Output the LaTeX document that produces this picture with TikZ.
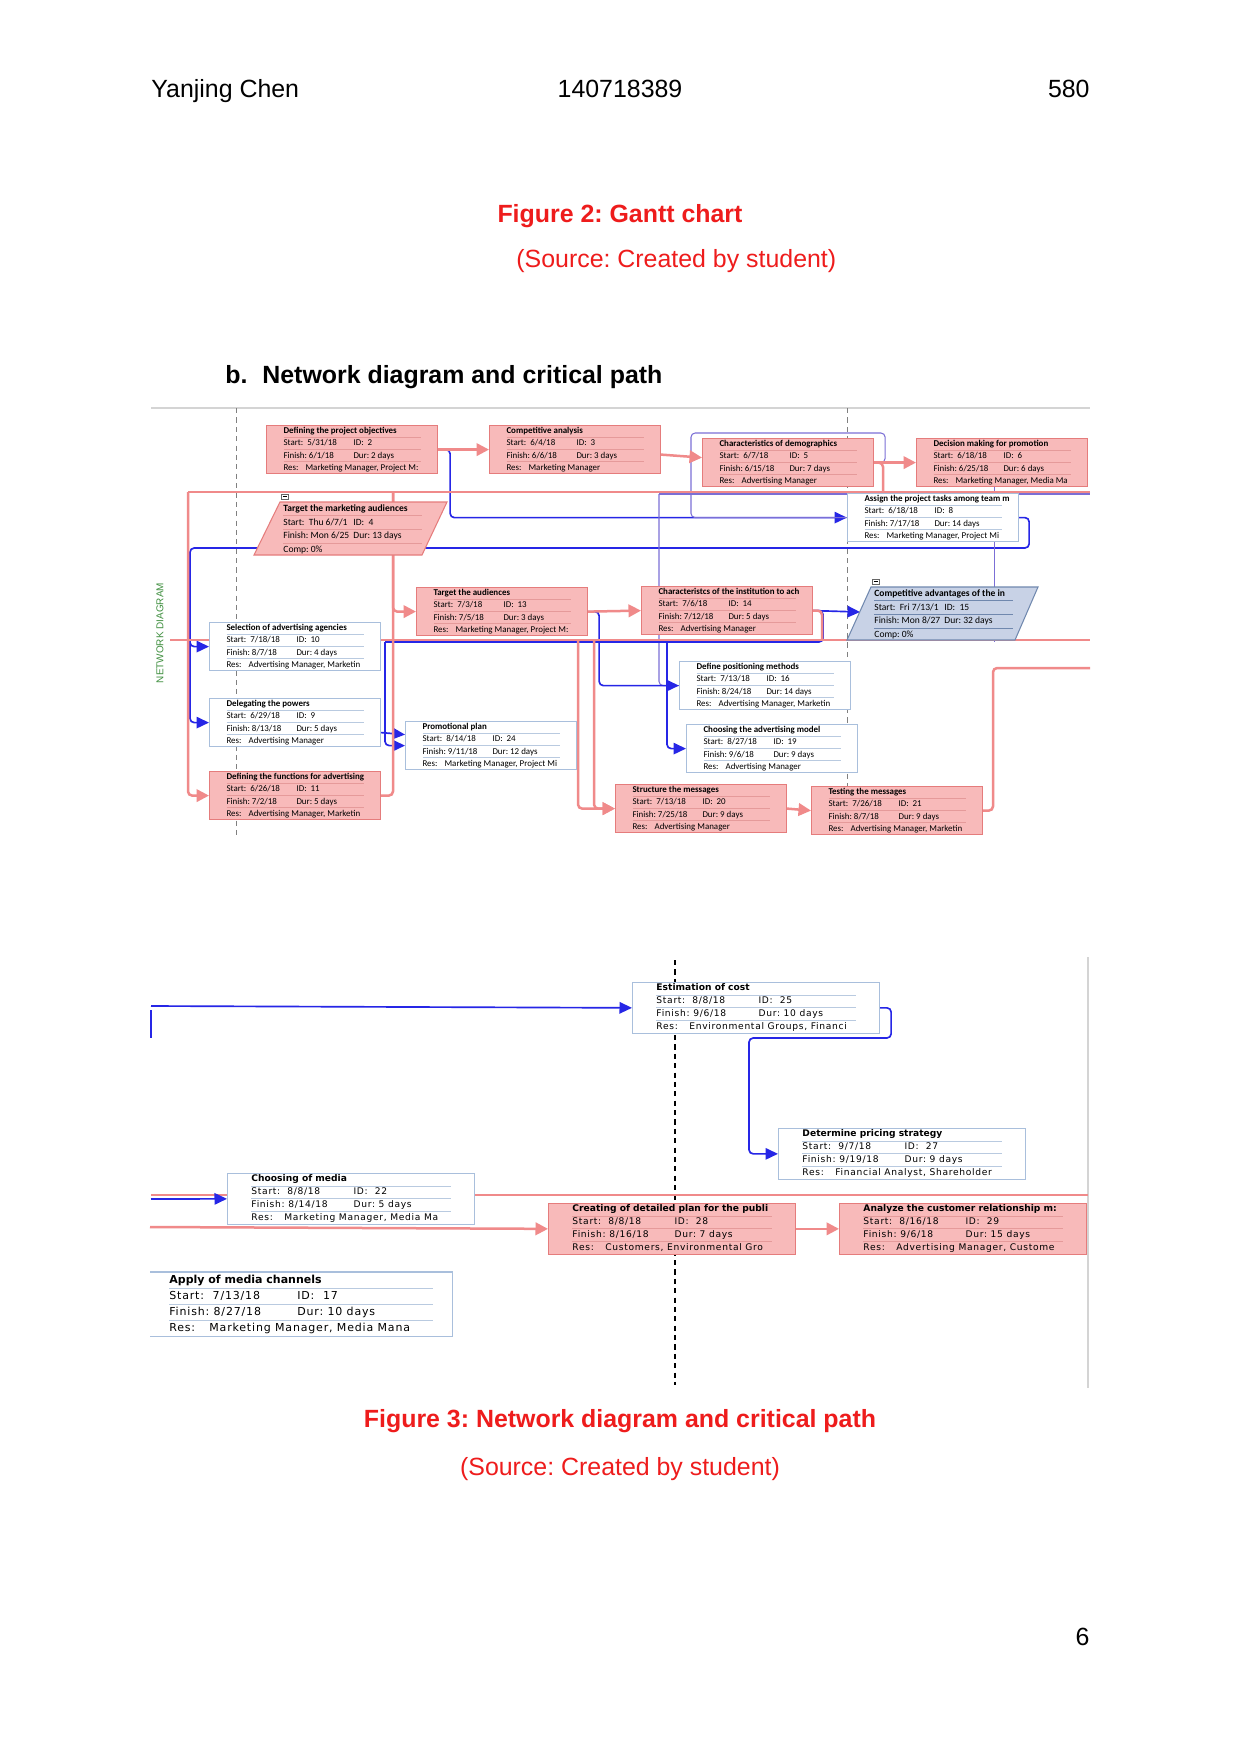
\documentclass[tikz,border=0pt]{standalone}
\usepackage{fontspec}
\setmainfont{Liberation Sans}
\newfontfamily\calfont{Carlito}
\newfontfamily\verfont[LetterSpace=7.5, BoldFeatures={LetterSpace=0}]{DejaVu Sans}
\usepackage{colortbl}
\usetikzlibrary{calc, arrows.meta, backgrounds}
\frenchspacing

\begin{document}
\begin{tikzpicture}[x=0.48bp, y=-0.48bp]
    % Define page size (A4 at 150 dpi, y pointing down)
    \useasboundingbox (0,0) rectangle (1241,1754);

    \definecolor{critLine}{HTML}{F08A8A}
    \definecolor{critFill}{HTML}{F8BABA}
    \definecolor{critBorder}{HTML}{E57C7C}
    \definecolor{critRule}{HTML}{E59A9A}
    \definecolor{linkBlue}{HTML}{2626E6}
    \definecolor{faintBlue}{HTML}{7B6FD6}
    \definecolor{normBorder}{HTML}{A9BFDC}
    \definecolor{normRule}{HTML}{B9CAE0}
    \definecolor{sumFill}{HTML}{C8D2E6}
    \definecolor{sumBorder}{HTML}{7088AE}
    \definecolor{capRed}{HTML}{EE1C1C}
    \definecolor{diagGreen}{HTML}{3F8F3F}
    \definecolor{frameGrey}{HTML}{D4D4D4}

    % Task box contents
    \def\taskrows#1#2#3#4#5#6{%
        \begin{tabular}{@{}l@{}l@{}}
            \multicolumn{2}{@{}l@{}}{\makebox[0pt][l]{\bfseries #1}}\\\hline
            \makebox[\colA][l]{Start:~~#2} & \makebox[\colB][l]{ID:~~#3}\\\hline
            \makebox[\colA][l]{Finish:~#4} & \makebox[\colB][l]{Dur:~#5}\\\hline
            \multicolumn{2}{@{}l@{}}{\makebox[0pt][l]{\makebox[\resW][l]{Res:}#6}}
        \end{tabular}}
    \def\pararows#1#2#3#4#5{%
        \begin{tabular}{@{}l@{}l@{}}
            \multicolumn{2}{@{}l@{}}{\makebox[0pt][l]{\bfseries #1}}\\\hline
            \makebox[\colA][l]{Start:~~#2} & \makebox[\colB][l]{ID:~~#3}\\\hline
            \makebox[\colA][l]{Finish:~#4} & \makebox[\colB][l]{Dur:~#5}\\\hline
            \multicolumn{2}{@{}l@{}}{Comp:~0\%}
        \end{tabular}}

    \tikzset{
        pagetext/.style={inner sep=0pt, font=\fontsize{12}{14}\selectfont},
        captext/.style={pagetext, text=capRed},
        topbox/.style={anchor=north west, inner xsep=8.16bp, inner ysep=0pt,
            minimum width=82.1bp, minimum height=22.6bp, line width=0.5bp,
            font=\calfont\fontsize{4.3}{5.5}\selectfont,
            execute at begin node={\def\colA{33.6bp}\def\colB{32.2bp}\def\resW{10.6bp}}},
        critbox/.style={topbox, draw=critBorder, fill=critFill,
            execute at begin node={\arrayrulecolor{critRule}}},
        normbox/.style={topbox, draw=normBorder, fill=white,
            execute at begin node={\arrayrulecolor{normRule}}},
        paratext/.style={anchor=north west, inner sep=0pt,
            font=\calfont\fontsize{4.6}{6.2}\selectfont,
            execute at begin node={\def\colA{33.6bp}\def\colB{33.1bp}}},
        lowbox/.style={anchor=north west, inner xsep=11.5bp, inner ysep=0pt,
            line width=0.5bp, font=\verfont\fontsize{4.4}{5.8}\selectfont,
            execute at begin node={\def\colA{49bp}\def\colB{46.6bp}\def\resW{15.8bp}}},
        lownorm/.style={lowbox, draw=normBorder, fill=white,
            execute at begin node={\arrayrulecolor{normRule}}},
        lowcrit/.style={lowbox, draw=critBorder, fill=critFill,
            execute at begin node={\arrayrulecolor{critRule}}},
        bigbox/.style={anchor=north west, inner xsep=9.1bp, inner ysep=0pt,
            fill=white, font=\verfont\fontsize{5.3}{7.4}\selectfont,
            execute at begin node={\arrayrulecolor{normRule}\def\colA{61.4bp}\def\colB{65.3bp}\def\resW{19.2bp}}},
        critlink/.style={critLine, line width=1.2bp, rounded corners=2bp},
        critarrow/.style={critlink, -{Triangle[length=6bp,width=6bp]}},
        bluelink/.style={linkBlue, line width=0.8bp, rounded corners=2bp},
        bluearrow/.style={bluelink, -{Triangle[length=6bp,width=5.5bp]}},
        faintlink/.style={faintBlue, line width=0.5bp, rounded corners=2bp},
        minusmark/.style={draw=black!60, fill=white, line width=0.3bp}
    }

    % Page header and captions
    \node[pagetext, anchor=base west] (author) at (151,97) {Yanjing Chen};
    \node[pagetext, anchor=base] (studentid) at (620,97) {140718389};
    \node[pagetext, anchor=base east] (wordcount) at (1090,97) {580};
    \node[captext, anchor=base, font=\fontsize{12}{14}\selectfont\bfseries] (fig2) at (620,222) {Figure 2: Gantt chart};
    \node[captext, anchor=base west] (src2) at (516,267) {(Source: Created by student)};
    \node[pagetext, anchor=base west, font=\fontsize{12}{14}\selectfont\bfseries] (secb) at (225,383) {b.};
    \node[pagetext, anchor=base west, font=\fontsize{12}{14}\selectfont\bfseries] (sectitle) at (262,383) {Network diagram and critical path};
    \node[inner sep=0pt, rotate=90, text=diagGreen, font=\fontsize{4.8}{5}\selectfont] (netlabel) at (160,633) {NETWORK DIAGRAM};

    % Critical tasks (top)
    \node[critbox] (t2) at (266,425) {\taskrows{Defining the project objectives}{5/31/18}{2}{6/1/18}{2 days}{Marketing Manager, Project M:}};
    \node[critbox] (t3) at (489,425) {\taskrows{Competitive analysis}{6/4/18}{3}{6/6/18}{3 days}{Marketing Manager}};
    \node[critbox] (t5) at (702,438) {\taskrows{Characteristics of demographics}{6/7/18}{5}{6/15/18}{7 days}{Advertising Manager}};
    \node[critbox] (t6) at (916,438) {\taskrows{Decision making for promotion}{6/18/18}{6}{6/25/18}{6 days}{Marketing Manager, Media Ma}};
    \node[critbox] (t13) at (416,587) {\taskrows{Target the audiences}{7/3/18}{13}{7/5/18}{3 days}{Marketing Manager, Project M:}};
    \node[critbox] (t14) at (641,586) {\taskrows{Characteristcs of the institution to ach}{7/6/18}{14}{7/12/18}{5 days}{Advertising Manager}};
    \node[critbox] (t11) at (209,771) {\taskrows{Defining the functions for advertising}{6/26/18}{11}{7/2/18}{5 days}{Advertising Manager, Marketin}};
    \node[critbox] (t20) at (615,784) {\taskrows{Structure the messages}{7/13/18}{20}{7/25/18}{9 days}{Advertising Manager}};
    \node[critbox] (t21) at (811,786) {\taskrows{Testing the messages}{7/26/18}{21}{8/7/18}{9 days}{Advertising Manager, Marketin}};

    % Other tasks (top)
    \node[normbox] (t8) at (847,493) {\taskrows{Assign the project tasks among team m}{6/18/18}{8}{7/17/18}{14 days}{Marketing Manager, Project Mi}};
    \node[normbox] (t10) at (209,622) {\taskrows{Selection of advertising agencies}{7/18/18}{10}{8/7/18}{4 days}{Advertising Manager, Marketin}};
    \node[normbox] (t9) at (209,698) {\taskrows{Delegating the powers}{6/29/18}{9}{8/13/18}{5 days}{Advertising Manager}};
    \node[normbox] (t24) at (405,721) {\taskrows{Promotional plan}{8/14/18}{24}{9/11/18}{12 days}{Marketing Manager, Project Mi}};
    \node[normbox] (t16) at (679,661) {\taskrows{Define positioning methods}{7/13/18}{16}{8/24/18}{14 days}{Advertising Manager, Marketin}};
    \node[normbox] (t19) at (686,724) {\taskrows{Choosing the advertising model}{8/27/18}{19}{9/6/18}{9 days}{Advertising Manager}};

    % Summary tasks (parallelograms)
    \draw[fill=critFill, draw=critBorder, line width=0.5bp] (280,502) -- (447,502) -- (422,555) -- (254,555) -- cycle;
    \draw[minusmark] (281,494) rectangle (288,499);
    \draw[line width=0.3bp] (282.5,496.5) -- (286.5,496.5);
    \node[paratext, execute at begin node={\arrayrulecolor{critRule}}] (t4) at (283,502) {\pararows{Target the marketing audiences}{Thu 6/7/1}{4}{Mon 6/25}{13 days}};

    \draw[fill=sumFill, draw=sumBorder, line width=0.5bp] (871,587) -- (1038,587) -- (1015,640) -- (847,640) -- cycle;
    \draw[minusmark] (872,579) rectangle (879,584);
    \draw[line width=0.3bp] (873.5,581.5) -- (877.5,581.5);
    \node[paratext, execute at begin node={\arrayrulecolor{sumBorder}}] (t15) at (874,587) {\pararows{Competitive advantages of the in}{Fri 7/13/1}{15}{Mon 8/27}{32 days}};

    % Lower part of the diagram
    \node[lownorm] (t25) at (632,982) {\taskrows{Estimation of cost}{8/8/18}{25}{9/6/18}{10 days}{Environmental Groups, Financi}};
    \node[lownorm] (t27) at (778,1128) {\taskrows{Determine pricing strategy}{9/7/18}{27}{9/19/18}{9 days}{Financial Analyst, Shareholder}};
    \node[lownorm] (t22) at (227,1173) {\taskrows{Choosing of media}{8/8/18}{22}{8/14/18}{5 days}{Marketing Manager, Media Ma}};
    \node[lowcrit] (t28) at (548,1203) {\taskrows{Creating of detailed plan for the publi}{8/8/18}{28}{8/16/18}{7 days}{Customers, Environmental Gro}};
    \node[lowcrit] (t29) at (839,1203) {\taskrows{Analyze the customer relationship m:}{8/16/18}{29}{9/6/18}{15 days}{Advertising Manager, Custome}};
    \node[bigbox] (t17) at (150,1272) {\taskrows{Apply of media channels}{7/13/18}{17}{8/27/18}{10 days}{Marketing Manager, Media Mana}};
    \draw[normBorder, line width=0.5bp] (t17.north west) -- (t17.north east) -- (t17.south east) -- (t17.south west);

    \node[captext, anchor=base, font=\fontsize{12}{14}\selectfont\bfseries] (fig3) at (620,1427) {Figure 3: Network diagram and critical path};
    \node[captext, anchor=base] (src3) at (620,1475) {(Source: Created by student)};
    \node[pagetext, anchor=base east] (pagenum) at (1090,1645) {6};

    % Routing points of the links
    \coordinate (critTopL) at (188,492);
    \coordinate (critTopR) at (1090,492);
    \coordinate (j5) at (883,492);
    \coordinate (j13) at (393,492);
    \coordinate (critMidL) at (170,640);
    \coordinate (critMidR) at (1090,640);
    \coordinate (j14) at (822,640);
    \coordinate (j20a) at (578,640);
    \coordinate (j20b) at (594,640);
    \coordinate (j21) at (993,668);
    \coordinate (critOut) at (1090,668);
    \coordinate (j10) at (190,548);
    \coordinate (j9) at (190,600);
    \coordinate (j16) at (659,494);
    \coordinate (faintR) at (1090,494);
    \coordinate (j24) at (385,642);
    \coordinate (j19) at (667,642);
    \coordinate (t15in) at (860,612);
    \coordinate (costIn) at (151,1006);
    \coordinate (mediaIn) at (151,1199);
    \coordinate (critLowL) at (151,1195);
    \coordinate (critLowR) at (1088,1195);
    \coordinate (planIn) at (150,1227);

    \begin{scope}[on background layer]
        \fill[white] (0,0) rectangle (1241,1754);

        % Frame and timescale lines
        \draw[frameGrey, line width=0.6bp] (151,408) -- (1090,408);
        \draw[frameGrey, line width=0.6bp] (1088,957) -- (1088,1388);
        \draw[gray, line width=0.4bp, dash pattern=on 2.5bp off 2bp] (236,408) -- (236,839);
        \draw[gray, line width=0.4bp, dash pattern=on 2.5bp off 2bp] (847,408) -- (847,839);
        \draw[black, line width=0.5bp, dash pattern=on 2.5bp off 2bp] (675,960) -- (675,1385);

        % Non-critical links
        \draw[bluearrow] (t2.east) -- ++(12,0) |- (t8.west);
        \draw[faintlink] (t5.east) -- ++(11,0) |- (691,433) |- (t8.west);
        \draw[bluearrow] (t8.east) -- ++(10,0) |- (j10) |- (t10.west);
        \draw[bluearrow] (j9) |- (t9.west);
        \draw[faintlink] (j16) -- (faintR);
        \draw[faintlink] (j16) |- (t16.west);
        \draw[bluearrow] (t13.east) -- ++(11,0) |- (t16.west);
        \draw[bluelink] (t14.east) -- ++(10,0) |- (j24);
        \draw[bluearrow] (j24) |- (t24.west);
        \draw[bluearrow] ($(t9.east)+(0,10)$) -- ($(t24.west)+(0,-11)$);
        \draw[bluearrow] (j19) |- (t19.west);
        \draw[bluearrow] (t14.east) -- (t15in);
        \draw[faintlink] ($(t6.south)+(-8,0)$) -- ++(0,155);

        % Critical path (top)
        \draw[critlink] (critTopR) -- (critTopL);
        \draw[critarrow] (critTopL) |- (t11.west);
        \draw[critlink] (t5.east) -| (j5);
        \draw[critarrow] (t2.east) -- (t3.west);
        \draw[critarrow] ($(t3.east)+(0,5)$) -- ($(t5.west)+(0,-5)$);
        \draw[critarrow] (t5.east) -- (t6.west);
        \draw[critarrow] (j13) |- (t13.west);
        \draw[critlink] (t11.east) -| (j13);
        \draw[critarrow] (t13.east) -- (t14.west);
        \draw[critlink] (critMidL) -- (critMidR);
        \draw[critlink] (t14.east) -| (j14);
        \draw[critarrow] (j20a) |- (t20.west);
        \draw[critarrow] (j20b) |- (t20.west);
        \draw[critarrow] (t20.east) -- (t21.west);
        \draw[critlink] (t21.east) -| (j21) -- (critOut);

        % Links of the lower part
        \draw[bluearrow] (costIn) -- (t25.west);
        \draw[bluelink] (151,1010) -- (151,1038);
        \draw[bluearrow] (t25.east) -- ++(11,0) |- (749,1038) |- (t27.west);
        \draw[critlink] (critLowL) -- (critLowR);
        \draw[bluearrow] (mediaIn) -- (t22.west);
        \draw[critarrow] (planIn) -- (t28.west);
        \draw[critarrow] (t28.east) -- (t29.west);
    \end{scope}

\end{tikzpicture}
\end{document}
